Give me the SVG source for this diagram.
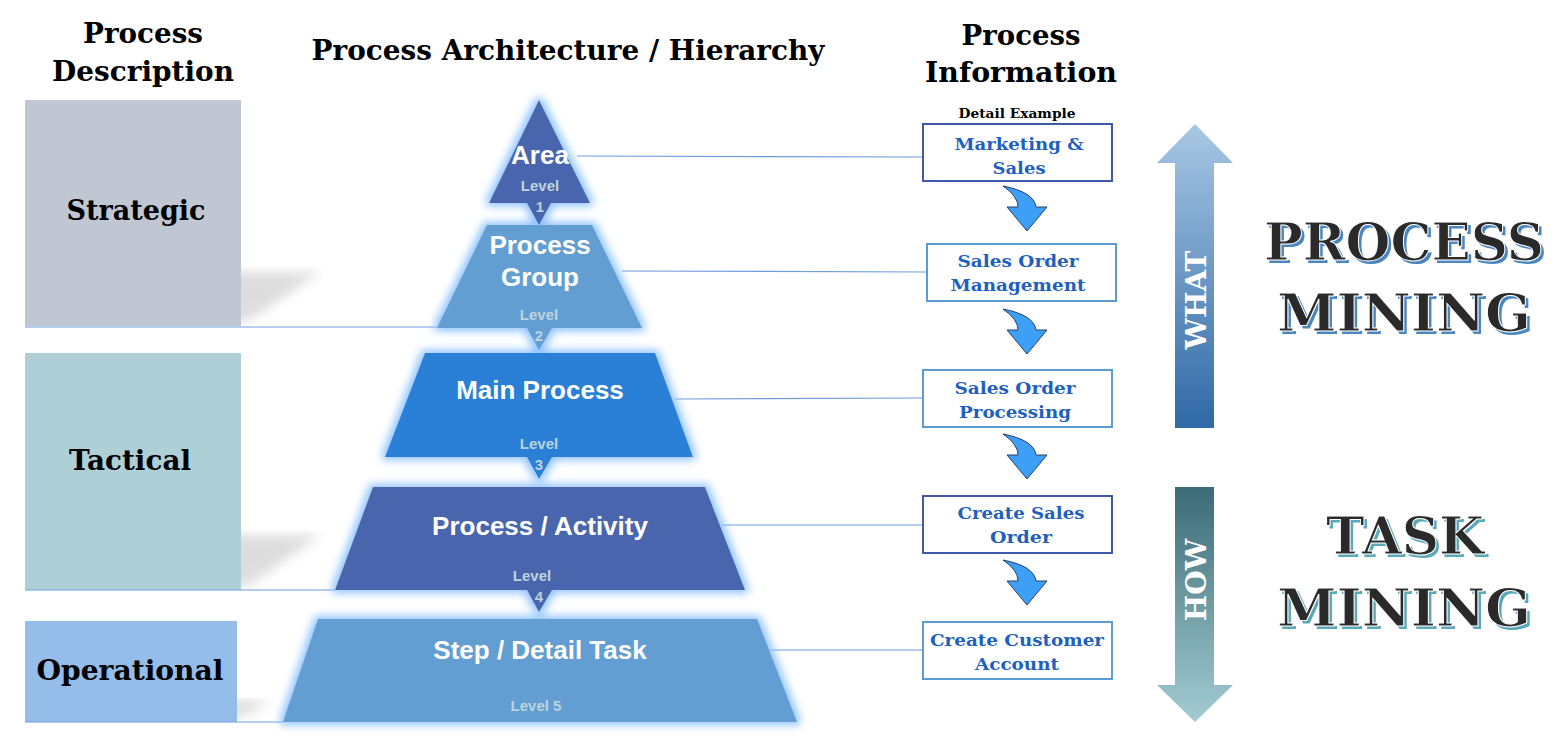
<svg xmlns="http://www.w3.org/2000/svg" width="1567" height="736" viewBox="0 0 1567 736">
<defs>
<filter id="glow" x="-20%" y="-20%" width="140%" height="140%">
<feMorphology in="SourceAlpha" operator="dilate" radius="3" result="d"/>
<feGaussianBlur in="d" stdDeviation="4" result="b"/>
<feFlood flood-color="#8fc3ff"/>
<feComposite in2="b" operator="in" result="g"/>
<feMerge><feMergeNode in="g"/><feMergeNode in="SourceGraphic"/></feMerge>
</filter>
<filter id="soft"><feGaussianBlur stdDeviation="6"/></filter>
<linearGradient id="gWhat" x1="0" y1="0" x2="0" y2="1"><stop offset="0" stop-color="#a8c7e4"/><stop offset="1" stop-color="#2f69a6"/></linearGradient>
<linearGradient id="gHow" x1="0" y1="0" x2="0" y2="1"><stop offset="0" stop-color="#3b6b76"/><stop offset="1" stop-color="#a3ccd2"/></linearGradient>
<style>
.t{font-family:"DejaVu Serif","Liberation Serif",serif;font-weight:bold;text-anchor:middle}
.p{font-family:"Liberation Sans",Arial,sans-serif;font-weight:bold;text-anchor:middle;fill:#fff;font-size:26px}
.lv{font-family:"Liberation Sans",Arial,sans-serif;font-weight:bold;text-anchor:middle;fill:#bcd3de;font-size:15px}
.box{fill:#fff;stroke-width:2}
.bt{font-family:"DejaVu Serif","Liberation Serif",serif;font-weight:bold;text-anchor:middle;fill:#1f5fc0;font-size:17px}
.con{stroke:#6f9de0;stroke-width:1.2;fill:none}
.big{font-family:"DejaVu Serif",serif;font-weight:bold;text-anchor:middle;font-size:52px}
.cur{fill:#3d9ff5;stroke:#2a3f66;stroke-width:1}
</style>
</defs>
<rect width="1567" height="736" fill="#fff"/>

<g id="titles">
<text class="t" x="143" y="43" font-size="27" textLength="120" lengthAdjust="spacingAndGlyphs">Process</text>
<text class="t" x="143" y="81" font-size="27" textLength="182" lengthAdjust="spacingAndGlyphs">Description</text>
<text class="t" x="568" y="60" font-size="27" textLength="513" lengthAdjust="spacingAndGlyphs">Process Architecture / Hierarchy</text>
<text class="t" x="1021" y="45" font-size="27" textLength="119" lengthAdjust="spacingAndGlyphs">Process</text>
<text class="t" x="1021" y="82" font-size="27" textLength="192" lengthAdjust="spacingAndGlyphs">Information</text>
<text class="t" x="1017" y="118" font-size="13" textLength="117" lengthAdjust="spacingAndGlyphs">Detail Example</text>
</g>

<g id="left-levels">
<path d="M80,320 L150,272 L320,272 L250,320 Z" fill="#bbb" opacity="0.5" filter="url(#soft)"/>
<rect id="strategic" x="25" y="100" width="216" height="226" fill="#c0c7d3"/>
<text class="t" x="136" y="220" font-size="27" textLength="139" lengthAdjust="spacingAndGlyphs">Strategic</text>
<path d="M80,585 L150,535 L320,535 L250,585 Z" fill="#bbb" opacity="0.5" filter="url(#soft)"/>
<rect id="tactical" x="25" y="353" width="216" height="237" fill="#aecfd5"/>
<text class="t" x="130" y="470" font-size="27" textLength="122" lengthAdjust="spacingAndGlyphs">Tactical</text>
<path d="M80,718 L150,700 L270,700 L240,718 Z" fill="#bbb" opacity="0.5" filter="url(#soft)"/>
<rect id="operational" x="25" y="621" width="212" height="101" fill="#94bde9"/>
<text class="t" x="130" y="680" font-size="27" textLength="187" lengthAdjust="spacingAndGlyphs">Operational</text>
</g>

<g id="connectors">
<line class="con" x1="25" y1="327" x2="437" y2="327"/>
<line class="con" x1="25" y1="590" x2="335" y2="590"/>
<line class="con" x1="25" y1="722" x2="283" y2="722"/>
<line class="con" x1="577" y1="156" x2="923" y2="157"/>
<line class="con" x1="622" y1="271" x2="927" y2="272"/>
<line class="con" x1="675" y1="399" x2="923" y2="398"/>
<line class="con" x1="722" y1="525" x2="923" y2="525"/>
<line class="con" x1="768" y1="650" x2="923" y2="650"/>
</g>

<g id="pyramid" filter="url(#glow)">
<g id="level1"><path d="M539,100 L590,203 L551,203 L539,225 L527,203 L489,203 Z" fill="#4a65ad"/></g>
<g id="level2"><path d="M487,225 L592,225 L642,328 L552,328 L539,350 L527,328 L437,328 Z" fill="#629ed2"/></g>
<g id="level3"><path d="M425,353 L655,353 L693,457 L552,457 L539,479 L527,457 L385,457 Z" fill="#2a7fd6"/></g>
<g id="level4"><path d="M373,487 L705,487 L745,590 L552,590 L539,612 L527,590 L335,590 Z" fill="#4a65ad"/></g>
<g id="level5"><path d="M318,619 L757,619 L797,722 L283,722 Z" fill="#629ed2"/></g>
</g>
<g id="pyramid-text">
<text class="p" x="540" y="164">Area</text>
<text class="lv" x="540" y="191">Level</text><text class="lv" x="540" y="212">1</text>
<text class="p" x="540" y="254">Process</text><text class="p" x="540" y="286">Group</text>
<text class="lv" x="539" y="320">Level</text><text class="lv" x="539" y="341">2</text>
<text class="p" x="540" y="399">Main Process</text>
<text class="lv" x="539" y="449">Level</text><text class="lv" x="539" y="470">3</text>
<text class="p" x="540" y="535">Process / Activity</text>
<text class="lv" x="532" y="581">Level</text><text class="lv" x="539" y="602">4</text>
<text class="p" x="540" y="659">Step / Detail Task</text>
<text class="lv" x="536" y="711">Level 5</text>
</g>

<g id="info-boxes">
<g id="b1"><rect class="box" x="923" y="124" width="189" height="57" stroke="#3e5aa8"/><text class="bt" x="1019" y="150" textLength="129" lengthAdjust="spacingAndGlyphs">Marketing &amp;</text><text class="bt" x="1019" y="174" textLength="53" lengthAdjust="spacingAndGlyphs">Sales</text></g>
<g id="b2"><rect class="box" x="927" y="244" width="189" height="57" stroke="#5b9bd5"/><text class="bt" x="1018" y="267" textLength="121" lengthAdjust="spacingAndGlyphs">Sales Order</text><text class="bt" x="1018" y="291" textLength="135" lengthAdjust="spacingAndGlyphs">Management</text></g>
<g id="b3"><rect class="box" x="923" y="370" width="189" height="57" stroke="#5b9bd5"/><text class="bt" x="1015" y="394" textLength="121" lengthAdjust="spacingAndGlyphs">Sales Order</text><text class="bt" x="1015" y="418" textLength="112" lengthAdjust="spacingAndGlyphs">Processing</text></g>
<g id="b4"><rect class="box" x="923" y="496" width="189" height="57" stroke="#3e5aa8"/><text class="bt" x="1021" y="519" textLength="127" lengthAdjust="spacingAndGlyphs">Create Sales</text><text class="bt" x="1021" y="543" textLength="62" lengthAdjust="spacingAndGlyphs">Order</text></g>
<g id="b5"><rect class="box" x="923" y="622" width="189" height="57" stroke="#5b9bd5"/><text class="bt" x="1017" y="646" textLength="174" lengthAdjust="spacingAndGlyphs">Create Customer</text><text class="bt" x="1017" y="670" textLength="84" lengthAdjust="spacingAndGlyphs">Account</text></g>
</g>

<g id="curved-arrows">
<path id="ca" class="cur" d="M1003,186 Q1034,192 1036,207 L1047,207 L1027,231 L1007,207 L1018,207 Q1018,196 1003,186 Z"/>
<use href="#ca" y="123"/>
<use href="#ca" y="248"/>
<use href="#ca" y="374"/>
</g>

<g id="what-arrow">
<path d="M1195,124 L1233,163 L1214,163 L1214,428 L1175,428 L1175,163 L1157,163 Z" fill="url(#gWhat)"/>
<text class="t" x="0" y="0" font-size="28" fill="#fff" transform="translate(1206,300) rotate(-90)">WHAT</text>
</g>
<g id="how-arrow">
<path d="M1175,487 L1214,487 L1214,685 L1233,685 L1195,722 L1157,685 L1175,685 Z" fill="url(#gHow)"/>
<text class="t" x="0" y="0" font-size="28" fill="#fff" transform="translate(1206,580) rotate(-90)">HOW</text>
</g>

<g id="process-mining">
<text class="big" x="1407" y="263" fill="#4a86c0" textLength="280" lengthAdjust="spacingAndGlyphs">PROCESS</text>
<text class="big" x="1404" y="260" fill="#2a2a2a" stroke="#fff" stroke-width="1" textLength="280" lengthAdjust="spacingAndGlyphs">PROCESS</text>
<text class="big" x="1407" y="334" fill="#4a86c0" textLength="254" lengthAdjust="spacingAndGlyphs">MINING</text>
<text class="big" x="1404" y="331" fill="#2a2a2a" stroke="#fff" stroke-width="1" textLength="254" lengthAdjust="spacingAndGlyphs">MINING</text>
</g>
<g id="task-mining">
<text class="big" x="1408" y="557" fill="#5aa9b8" textLength="158" lengthAdjust="spacingAndGlyphs">TASK</text>
<text class="big" x="1405" y="554" fill="#2a2a2a" stroke="#fff" stroke-width="1" textLength="158" lengthAdjust="spacingAndGlyphs">TASK</text>
<text class="big" x="1407" y="629" fill="#5aa9b8" textLength="254" lengthAdjust="spacingAndGlyphs">MINING</text>
<text class="big" x="1404" y="626" fill="#2a2a2a" stroke="#fff" stroke-width="1" textLength="254" lengthAdjust="spacingAndGlyphs">MINING</text>
</g>
</svg>
